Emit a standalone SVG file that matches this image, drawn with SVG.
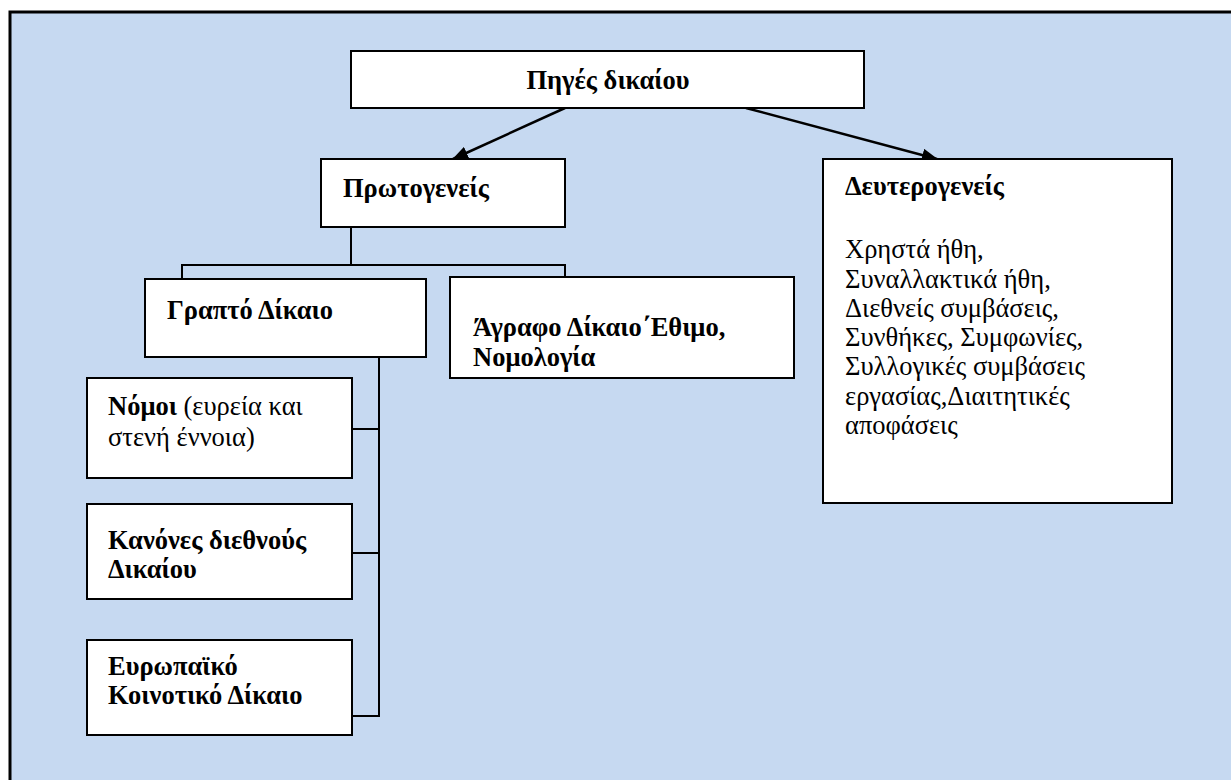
<svg xmlns="http://www.w3.org/2000/svg" width="1231" height="780" viewBox="0 0 1231 780">
<defs>
<style>
.box{fill:#ffffff;stroke:#000000;stroke-width:2}
.b{font-family:"Liberation Serif","Times New Roman",serif;font-size:26.5px;font-weight:bold;fill:#000}
.r{font-family:"Liberation Serif","Times New Roman",serif;font-size:26.5px;font-weight:normal;fill:#000}
.ln{fill:none;stroke:#000;stroke-width:2}
.ar{fill:none;stroke:#000;stroke-width:2.5}
</style>
<marker id="ah" viewBox="0 0 16 13" refX="15" refY="6.5" markerWidth="16" markerHeight="13" markerUnits="userSpaceOnUse" orient="auto">
<path d="M0,0 L16,6.5 L0,13 z" fill="#000"/>
</marker>
</defs>
<rect x="0" y="0" width="1231" height="780" fill="#ffffff"/>
<rect x="10" y="12" width="1240" height="800" fill="#c6d9f1" stroke="#000" stroke-width="3"/>
<g id="connectors">
<line class="ar" x1="565" y1="108" x2="453" y2="159" marker-end="url(#ah)"/>
<line class="ar" x1="746" y1="108" x2="937" y2="159" marker-end="url(#ah)"/>
<polyline class="ln" points="351,227 351,265"/>
<polyline class="ln" points="182,279 182,265 565,265 565,277"/>
<polyline class="ln" points="379,357 379,716 352,716"/>
<line class="ln" x1="352" y1="429" x2="379" y2="429"/>
<line class="ln" x1="352" y1="553" x2="379" y2="553"/>
</g>
<g id="pigi">
<rect class="box" x="351" y="51" width="513" height="57"/>
<text class="b" x="608" y="89" text-anchor="middle">Πηγές δικαίου</text>
</g>
<g id="protogeneis">
<rect class="box" x="321" y="159" width="244" height="68"/>
<text class="b" x="343" y="197">Πρωτογενείς</text>
</g>
<g id="defterogeneis">
<rect class="box" x="823" y="159" width="349" height="344"/>
<text class="b" x="845" y="195">Δευτερογενείς</text>
<text class="r" x="845" y="258">Χρηστά ήθη,</text>
<text class="r" x="845" y="288">Συναλλακτικά ήθη,</text>
<text class="r" x="845" y="317">Διεθνείς συμβάσεις,</text>
<text class="r" x="845" y="346">Συνθήκες, Συμφωνίες,</text>
<text class="r" x="845" y="375">Συλλογικές συμβάσεις</text>
<text class="r" x="845" y="405">εργασίας,Διαιτητικές</text>
<text class="r" x="845" y="434">αποφάσεις</text>
</g>
<g id="grapto">
<rect class="box" x="145" y="279" width="281" height="78"/>
<text class="b" x="167" y="319">Γραπτό Δίκαιο</text>
</g>
<g id="agrafo">
<rect class="box" x="450" y="277" width="344" height="101"/>
<text class="b" x="473" y="336">Άγραφο Δίκαιο΄Εθιμο,</text>
<text class="b" x="473" y="366">Νομολογία</text>
</g>
<g id="nomoi">
<rect class="box" x="87" y="378" width="265" height="100"/>
<text x="108" y="415"><tspan class="b">Νόμοι</tspan><tspan class="r"> (ευρεία και</tspan></text>
<text class="r" x="108" y="446">στενή έννοια)</text>
</g>
<g id="kanones">
<rect class="box" x="87" y="504" width="265" height="95"/>
<text class="b" x="108" y="549">Κανόνες διεθνούς</text>
<text class="b" x="108" y="578">Δικαίου</text>
</g>
<g id="evropaiko">
<rect class="box" x="87" y="640" width="265" height="95"/>
<text class="b" x="108" y="675">Ευρωπαϊκό</text>
<text class="b" x="108" y="704">Κοινοτικό Δίκαιο</text>
</g>
</svg>
